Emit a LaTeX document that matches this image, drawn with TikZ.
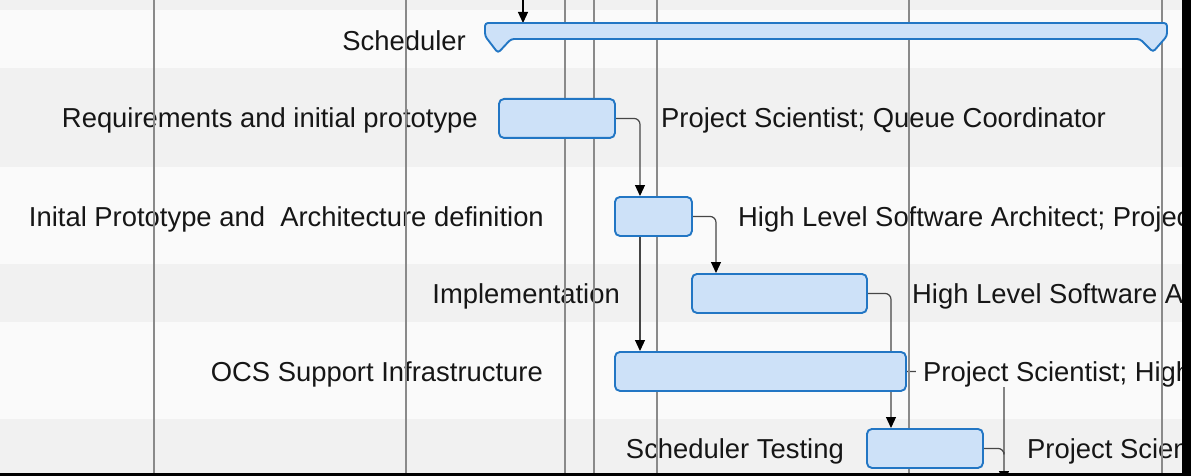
\documentclass[tikz,border=0pt]{standalone}
\usepackage{fontspec}
\setmainfont{Liberation Sans}
\usetikzlibrary{arrows.meta,calc}
\definecolor{rowgray}{RGB}{241,241,241}
\definecolor{rowlight}{RGB}{250,250,250}
\definecolor{gridc}{RGB}{138,138,138}
\definecolor{barfill}{RGB}{205,225,248}
\definecolor{barline}{RGB}{34,118,196}
\definecolor{connc}{RGB}{70,70,70}
\definecolor{txt}{RGB}{22,22,22}
\pgfdeclarelayer{bglayer}
\pgfdeclarelayer{connlayer}
\pgfdeclarelayer{lablayer}
\pgfdeclarelayer{gridlayer}
\pgfsetlayers{bglayer,connlayer,lablayer,gridlayer,main}
\begin{document}
\begin{tikzpicture}[x=1pt,y=-1pt,
  bar/.style={draw=barline, line width=1.9pt, fill=barfill, rounded corners=5pt,
    inner sep=0pt, minimum height=39pt, anchor=north west},
  lbl/.style={font=\fontsize{27.4}{32}\selectfont, text=txt, inner sep=0pt},
  llbl/.style={lbl, anchor=base east},
  rlbl/.style={lbl, anchor=base west},
  conn/.style={draw=connc, line width=1.2pt, rounded corners=6pt},
  arr/.style={-{Triangle[width=10pt,length=11pt,color=black]}},
  gridline/.style={draw=gridc, line width=1.4pt}]
\useasboundingbox (0,0) rectangle (1191,476);
% task bars
\node[bar, minimum width=116pt] (req) at (498,98) {};
\node[bar, minimum width=77pt]  (inital) at (614,196) {};
\node[bar, minimum width=175pt] (impl) at (691,273) {};
\node[bar, minimum width=291pt] (ocs) at (614,351) {};
\node[bar, minimum width=116pt] (test) at (866,428) {};
% summary bar
\draw[draw=barline, line width=1.9pt, fill=barfill, rounded corners=3pt]
  (498,53) -- (485,36) -- (485,23) -- (1167,23) -- (1167,36) -- (1153,52)
  -- (1140,39) -- (511,39) -- cycle;
\coordinate (topin) at (523,0);
\coordinate (sched) at (523,23);
\coordinate (below) at (1004,482);
\begin{pgfonlayer}{bglayer}
\fill[rowgray]  (0,0)   rectangle (1191,10);
\fill[rowlight] (0,10)  rectangle (1191,68);
\fill[rowgray]  (0,68)  rectangle (1191,167);
\fill[rowlight] (0,167) rectangle (1191,264);
\fill[rowgray]  (0,264) rectangle (1191,322);
\fill[rowlight] (0,322) rectangle (1191,419);
\fill[rowgray]  (0,419) rectangle (1191,476);
\end{pgfonlayer}
\begin{pgfonlayer}{connlayer}
\draw[conn, arr, draw=black] (topin) -- (sched);
\draw[conn, arr] (req.east) -| ([xshift=26pt]inital.north west);
\draw[conn, arr] ([xshift=26pt]inital.south west) -- ([xshift=26pt]ocs.north west);
\draw[conn, arr] (inital.east) -| ([xshift=25pt]impl.north west);
\draw[conn, arr] (impl.east) -| ([xshift=25pt]test.north west);
\draw[conn, arr] (ocs.east) -| (below);
\draw[conn] (test.east) -| ($(below)+(0,-30)$);
\end{pgfonlayer}
\begin{pgfonlayer}{lablayer}
\node[llbl] (lsched) at (466,51) {Scheduler};
\node[llbl] (lreq) at (478,128) {Requirements and initial prototype};
\node[llbl] (linital) at (544,226) {Inital Prototype and\ \ Architecture definition};
\node[llbl] (limpl) at (620,303) {Implementation};
\node[llbl] (locs) at (543,381) {OCS Support Infrastructure};
\node[llbl] (ltest) at (844,458) {Scheduler Testing};
\node[rlbl] (rreq) at (661,128) {Project Scientist; Queue Coordinator};
\node[rlbl] (rinital) at (738,226) {High Level Software Architect; Projec};
\node[rlbl] (rimpl) at (912,303) {High Level Software A};
\node[rlbl, fill=rowlight, inner xsep=7pt] (rocs) at (916,381) {Project Scientist; High};
\node[rlbl] (rtest) at (1027,458) {Project Scien};
\end{pgfonlayer}
\begin{pgfonlayer}{gridlayer}
\foreach \gx in {154,406,565,594,657,909,1162}
  \draw[gridline] (\gx,0) -- (\gx,476);
\end{pgfonlayer}
% screenshot frame edges
\fill[black] (1182,0) rectangle (1191,476);
\fill[black] (0,473) rectangle (1191,476);
\end{tikzpicture}
\end{document}
